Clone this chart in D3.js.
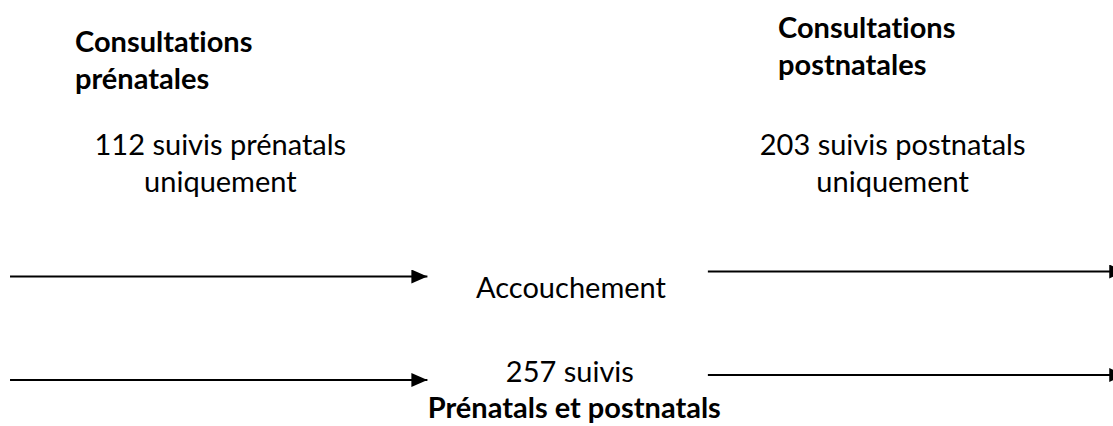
<!DOCTYPE html>
<html>
<head>
<meta charset="utf-8">
<script src="https://cdn.jsdelivr.net/npm/d3@7"></script>
<style>
  body { margin: 0; background: #fff; }
  text { font-family: Lato, "Liberation Sans", sans-serif; fill: #000; font-variant-ligatures: none; font-feature-settings: "liga" 0; }
</style>
</head>
<body>
<script>
const width = 1113, height = 426;

// data
const phaseTitles = [["Consultations", "prénatales"], ["Consultations", "postnatales"]];
const onlyCounts = [112, 203];
const onlyLabels = ["suivis prénatals", "suivis postnatals"];
const bothCount = 257;
const bothLabel = "Prénatals et postnatals";
const eventLabel = "Accouchement";
const rows = ["event", "both"];
const sides = ["pre", "post"];

// layout
const x = d3.scaleLinear().domain([0, 1]).range([0, width]);
const y = d3.scalePoint().domain(rows).range([274, 375.5]);
const arrowSpan = { pre: [0.009, 0.384], post: [0.636, 1.011] };
const sideShift = { pre: 2.5, post: -2.5 };
const sideCenter = { pre: 0.198, post: 0.802 };
const titleX = { pre: 75, post: 778 };
const titleY = { pre: 52, post: 38 };
const fontSize = 29;

const svg = d3.select("body").append("svg")
    .attr("width", width)
    .attr("height", height);

svg.append("defs").append("marker")
    .attr("id", "head")
    .attr("markerUnits", "userSpaceOnUse")
    .attr("markerWidth", 17)
    .attr("markerHeight", 15)
    .attr("refX", 16)
    .attr("refY", 7)
    .attr("orient", "auto")
    .append("path")
    .attr("d", "M0,0L16,7L0,14Z")
    .attr("fill", "#000");

// arrows: one per row and side
const arrows = [];
rows.forEach(r => sides.forEach(s => arrows.push({ row: r, side: s })));

svg.selectAll(".arrow")
    .data(arrows)
    .join("line")
    .attr("class", "arrow")
    .attr("x1", d => x(arrowSpan[d.side][0]))
    .attr("x2", d => x(arrowSpan[d.side][1]))
    .attr("y1", d => y(d.row) + sideShift[d.side] + (d.row === "both" ? 2 : 0))
    .attr("y2", d => y(d.row) + sideShift[d.side] + (d.row === "both" ? 2 : 0))
    .attr("stroke", "#000")
    .attr("stroke-width", 2)
    .attr("marker-end", "url(#head)");

// phase titles
sides.forEach((s, i) => {
    svg.append("text")
        .attr("x", titleX[s])
        .attr("y", titleY[s])
        .style("font-size", fontSize + "px")
        .style("font-weight", "bold")
        .selectAll("tspan")
        .data(phaseTitles[i])
        .join("tspan")
        .attr("x", titleX[s])
        .attr("dy", (d, j) => j ? 37 : 0)
        .text(d => d);

    const t = svg.append("text")
        .attr("x", x(sideCenter[s]))
        .attr("y", 155)
        .attr("text-anchor", "middle")
        .style("font-size", fontSize + "px");
    t.append("tspan").attr("x", x(sideCenter[s])).text(`${onlyCounts[i]} ${onlyLabels[i]}`);
    t.append("tspan").attr("x", x(sideCenter[s])).attr("dy", 37).text("uniquement");
});

// centre labels
svg.append("text")
    .attr("x", x(0.513))
    .attr("y", y("event") + 24)
    .attr("text-anchor", "middle")
    .style("font-size", fontSize + "px")
    .text(eventLabel);

svg.append("text")
    .attr("x", x(0.512))
    .attr("y", y("both") + 6)
    .attr("text-anchor", "middle")
    .style("font-size", fontSize + "px")
    .text(`${bothCount} suivis`);

svg.append("text")
    .attr("x", x(0.516))
    .attr("y", y("both") + 42)
    .attr("text-anchor", "middle")
    .style("font-size", fontSize + "px")
    .style("font-weight", "bold")
    .text(bothLabel);
</script>
</body>
</html>
